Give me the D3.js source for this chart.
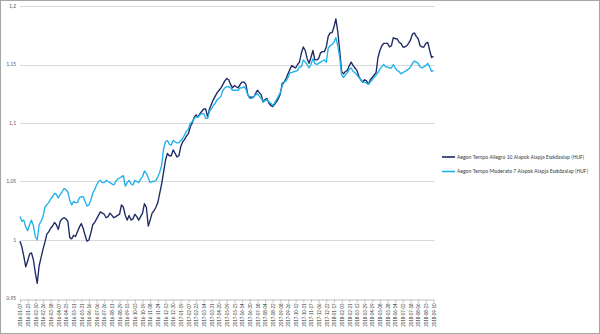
<!DOCTYPE html>
<html><head><meta charset="utf-8">
<script src="https://cdn.jsdelivr.net/npm/d3@7"></script>
<style>html,body{margin:0;padding:0;background:#fff;}svg{display:block;}</style>
</head><body>
<svg id="c" width="600" height="334"></svg>
<script>
const tickLabels = ["2016-01-07","2016-01-25","2016-02-10","2016-02-26","2016-03-18","2016-04-07","2016-04-25","2016-05-11","2016-05-31","2016-06-16","2016-07-06","2016-07-26","2016-08-11","2016-08-29","2016-09-15","2016-10-03","2016-10-19","2016-11-08","2016-11-24","2016-12-13","2016-12-30","2017-01-19","2017-02-07","2017-02-23","2017-03-14","2017-03-31","2017-04-20","2017-05-09","2017-05-25","2017-06-14","2017-06-30","2017-07-18","2017-08-04","2017-08-22","2017-09-08","2017-09-26","2017-10-12","2017-10-31","2017-11-17","2017-12-06","2017-12-22","2018-01-17","2018-02-05","2018-02-21","2018-03-12","2018-03-29","2018-04-19","2018-05-08","2018-05-28","2018-06-14","2018-07-02","2018-07-18","2018-08-06","2018-08-23","2018-09-10"];
const daysPerTick = 12;
const daysPerSample = 3;
const seriesNames = ["Aegon Tempo Allegro 10 Alapok Alapja Eszközalap (HUF)","Aegon Tempo Moderato 7 Alapok Alapja Eszközalap (HUF)"];
const allegro = [0.999,0.994,0.986,0.977,0.982,0.988,0.989,0.983,0.972,0.963,0.978,0.985,0.992,0.998,1.005,1.007,1.010,1.012,1.015,1.013,1.009,1.016,1.018,1.019,1.018,1.016,1.002,1.001,1.004,1.003,1.007,1.011,1.014,1.010,1.004,0.999,1.000,1.006,1.013,1.015,1.018,1.021,1.024,1.023,1.022,1.019,1.020,1.023,1.021,1.019,1.020,1.021,1.022,1.030,1.028,1.021,1.017,1.021,1.017,1.018,1.022,1.020,1.017,1.020,1.023,1.031,1.028,1.012,1.017,1.023,1.025,1.028,1.032,1.040,1.048,1.058,1.068,1.074,1.072,1.072,1.077,1.074,1.071,1.072,1.080,1.084,1.086,1.089,1.091,1.097,1.100,1.105,1.107,1.105,1.108,1.110,1.112,1.112,1.105,1.112,1.116,1.120,1.123,1.126,1.128,1.130,1.133,1.136,1.138,1.137,1.133,1.130,1.132,1.131,1.130,1.133,1.135,1.135,1.133,1.124,1.122,1.122,1.122,1.125,1.128,1.126,1.124,1.118,1.120,1.121,1.117,1.115,1.114,1.116,1.118,1.121,1.125,1.134,1.135,1.138,1.142,1.146,1.149,1.148,1.147,1.150,1.152,1.160,1.165,1.162,1.155,1.151,1.156,1.162,1.154,1.154,1.155,1.160,1.161,1.161,1.165,1.174,1.177,1.177,1.182,1.189,1.178,1.162,1.144,1.142,1.144,1.145,1.149,1.152,1.149,1.147,1.145,1.140,1.137,1.135,1.137,1.136,1.133,1.137,1.139,1.141,1.143,1.156,1.162,1.166,1.168,1.168,1.168,1.165,1.166,1.173,1.172,1.172,1.169,1.168,1.165,1.165,1.166,1.168,1.171,1.176,1.177,1.174,1.172,1.166,1.165,1.165,1.168,1.169,1.162,1.156,1.157];
const moderato = [1.020,1.016,1.017,1.011,1.008,1.013,1.017,1.012,1.003,1.000,1.013,1.016,1.020,1.028,1.030,1.032,1.035,1.037,1.040,1.039,1.036,1.039,1.041,1.044,1.043,1.041,1.034,1.030,1.033,1.032,1.032,1.036,1.037,1.037,1.033,1.029,1.030,1.034,1.040,1.043,1.047,1.050,1.051,1.049,1.049,1.051,1.050,1.049,1.048,1.047,1.050,1.052,1.053,1.054,1.055,1.046,1.049,1.051,1.048,1.047,1.051,1.050,1.049,1.052,1.054,1.059,1.057,1.053,1.049,1.050,1.050,1.051,1.054,1.058,1.064,1.078,1.084,1.085,1.082,1.081,1.085,1.084,1.083,1.083,1.085,1.087,1.090,1.093,1.095,1.100,1.101,1.104,1.105,1.105,1.107,1.108,1.108,1.104,1.104,1.110,1.112,1.115,1.117,1.120,1.121,1.123,1.128,1.130,1.131,1.131,1.130,1.128,1.128,1.128,1.128,1.130,1.130,1.131,1.129,1.124,1.121,1.121,1.122,1.124,1.125,1.123,1.121,1.118,1.119,1.120,1.118,1.117,1.115,1.117,1.120,1.123,1.126,1.132,1.135,1.136,1.139,1.143,1.143,1.144,1.144,1.145,1.148,1.148,1.154,1.152,1.150,1.147,1.150,1.155,1.151,1.150,1.151,1.152,1.153,1.154,1.152,1.164,1.166,1.167,1.169,1.173,1.166,1.156,1.141,1.139,1.141,1.143,1.146,1.147,1.144,1.143,1.141,1.139,1.137,1.135,1.135,1.134,1.133,1.135,1.137,1.139,1.141,1.143,1.146,1.148,1.150,1.148,1.148,1.147,1.147,1.150,1.147,1.145,1.144,1.142,1.143,1.144,1.145,1.146,1.148,1.151,1.153,1.152,1.151,1.148,1.147,1.148,1.149,1.151,1.148,1.144,1.145];
const yTicks = [0.95,1,1.05,1.1,1.15,1.2];
const colors = ["#1b2a63","#1fb2ea"];

const svg = d3.select("#c");
svg.append("rect").attr("x",0.5).attr("y",0.5).attr("width",599).attr("height",333)
  .attr("fill","#fff").attr("stroke","#a6a6a6");

const x0 = 20, x1 = 433.5, yTop = 6, yBot = 298.5;
const totalDays = (tickLabels.length-1)*daysPerTick;
const x = d3.scaleLinear().domain([0,totalDays]).range([x0,x1]);
const y = d3.scaleLinear().domain([0.95,1.2]).range([yBot,yTop]);
const font = "Calibri, Carlito, 'Liberation Sans', Arial, sans-serif";

svg.append("g").selectAll("line").data(yTicks.slice(1)).join("line")
  .attr("x1",x0).attr("x2",x1+1).attr("y1",d=>Math.round(y(d))+0.5).attr("y2",d=>Math.round(y(d))+0.5)
  .attr("stroke","#d9d9d9").attr("stroke-width",1);

const fmt = d => String(+d.toFixed(2)).replace(".",",");
svg.append("g").selectAll("text").data(yTicks).join("text")
  .attr("x",16).attr("y",d=>y(d)+1.8).attr("text-anchor","end")
  .attr("font-family",font).attr("font-size",5.5).attr("fill","#595959")
  .text(fmt);

const xAxis = d3.axisBottom(x).tickValues(d3.range(tickLabels.length).map(i=>i*daysPerTick))
  .tickFormat((d,i)=>tickLabels[i]).tickSize(3).tickSizeOuter(0);
const gx = svg.append("g").attr("transform",`translate(0,${Math.round(yBot)+0.5})`).call(xAxis);
gx.select(".domain").attr("stroke","#bfbfbf");
gx.selectAll(".tick line").attr("stroke","#bfbfbf");
gx.selectAll(".tick text")
  .attr("font-family",font).attr("font-size",5).attr("fill","#404040")
  .attr("transform","rotate(-90)").attr("text-anchor","end").attr("x",-4).attr("y",0).attr("dy","0.35em");

const line = d3.line().x((d,i)=>x(i*daysPerSample)).y(d=>y(d));
[allegro, moderato].forEach((s,k)=>{
  svg.append("path").datum(s).attr("d",line).attr("fill","none")
    .attr("stroke",colors[k]).attr("stroke-width",1.35).attr("stroke-linejoin","round");
});

const lg = svg.append("g");
seriesNames.forEach((n,k)=>{
  const ly = 157 + k*14.5;
  lg.append("line").attr("x1",442).attr("x2",455).attr("y1",ly).attr("y2",ly)
    .attr("stroke",colors[k]).attr("stroke-width",1.6);
  lg.append("text").attr("x",457).attr("y",ly+1.9)
    .attr("font-family",font).attr("font-size",5.6).attr("fill","#404040")
    .text(n);
});
</script>
</body></html>
